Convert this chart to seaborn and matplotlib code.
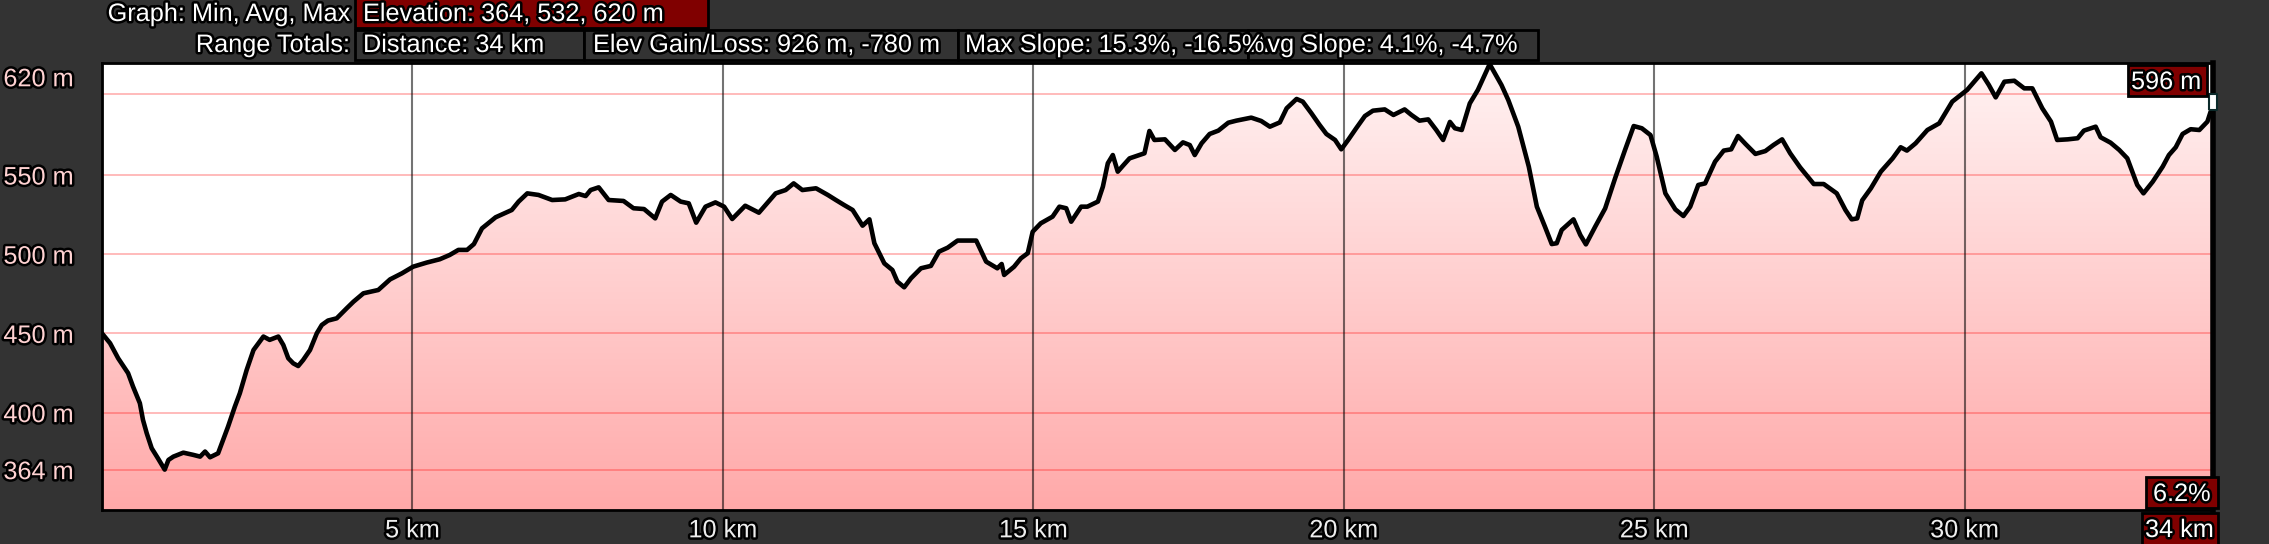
import matplotlib
matplotlib.use("Agg")
import matplotlib.pyplot as plt
import matplotlib.patheffects as pe
from matplotlib.patches import Rectangle
from matplotlib.colors import LinearSegmentedColormap
import numpy as np
import pandas as pd
import seaborn as sns


# ─── Data ─────────────────────────────────────────────────────────────────────
DIST_KM = [
    0.00, 0.13, 0.26, 0.42, 0.50, 0.61, 0.66, 0.72, 0.80, 0.90, 1.01, 1.07, 1.15,
    1.31, 1.47, 1.58, 1.66, 1.74, 1.87, 1.95, 2.03, 2.14, 2.22, 2.33, 2.44, 2.54,
    2.60, 2.70, 2.84, 2.92, 3.00, 3.08, 3.16, 3.24, 3.35, 3.46, 3.54, 3.64, 3.78,
    3.94, 4.05, 4.21, 4.45, 4.64, 4.83, 5.01, 5.23, 5.44, 5.60,
    5.74, 5.88, 5.99, 6.12, 6.34, 6.60, 6.71, 6.85, 7.03, 7.25, 7.46, 7.68, 7.79,
    7.87, 8.00, 8.16, 8.40, 8.56, 8.73, 8.91, 9.02, 9.16, 9.32, 9.45, 9.57, 9.72,
    9.88, 10.02, 10.15, 10.36, 10.58, 10.85, 11.01, 11.14, 11.28,
    11.50, 11.69, 11.82, 11.95, 12.09, 12.25, 12.36, 12.44, 12.60, 12.73, 12.81,
    12.92, 13.03, 13.19, 13.35, 13.48, 13.62, 13.78, 14.08, 14.24, 14.42, 14.49,
    14.53, 14.69, 14.80, 14.91, 14.99, 15.12, 15.31, 15.42, 15.53, 15.61, 15.77,
    15.87, 16.04, 16.12, 16.20, 16.28, 16.36, 16.44, 16.55, 16.79, 16.87, 16.95,
    17.12, 17.28, 17.41, 17.52, 17.60, 17.71, 17.84, 17.98, 18.14, 18.27, 18.51,
    18.67, 18.81, 18.97, 19.08, 19.24, 19.34, 19.48, 19.61, 19.72, 19.86, 19.96,
    20.07, 20.20, 20.34, 20.47, 20.66, 20.80, 20.98, 21.09, 21.22, 21.36, 21.49,
    21.60, 21.71, 21.79, 21.90, 22.03, 22.16, 22.35, 22.54,
    22.65, 22.81, 22.98, 23.11, 23.24, 23.35, 23.43, 23.51, 23.70, 23.81, 23.90,
    24.05, 24.21, 24.37, 24.53, 24.67, 24.80, 24.94, 25.04, 25.18, 25.34, 25.47,
    25.58, 25.71, 25.82, 25.98, 26.12, 26.24, 26.35, 26.47, 26.63, 26.79, 26.92,
    27.06, 27.19, 27.35, 27.57, 27.73, 27.94, 28.08, 28.18, 28.27, 28.35,
    28.49, 28.65, 28.84, 28.97, 29.07, 29.21, 29.40, 29.59, 29.80, 30.04, 30.27,
    30.39, 30.50, 30.64, 30.80, 30.96, 31.09, 31.25, 31.39, 31.49, 31.66, 31.82,
    31.92, 32.11, 32.19, 32.35, 32.49, 32.62, 32.70, 32.78, 32.88, 33.03, 33.19,
    33.29, 33.40, 33.51, 33.64, 33.78, 33.91, 33.97, 34.00,
]
ELEV_M = [
    450.0, 443.8, 434.3, 424.9, 416.4, 405.9, 395.4, 387.0, 377.5, 371.2, 364.0, 370.1, 372.2,
    374.7, 373.3, 372.2, 375.4, 371.8, 374.3, 382.7, 391.1, 403.8, 412.2, 426.9, 439.5, 444.8,
    448.0, 445.9, 448.0, 442.7, 434.3, 431.1, 429.4, 433.2, 439.5, 450.1, 455.3, 458.1, 459.5,
    465.8, 470.0, 475.3, 477.4, 484.1, 487.9, 492.1, 494.7, 496.8, 499.5,
    502.7, 502.7, 506.4, 516.3, 523.3, 527.9, 533.2, 538.4, 537.4, 534.2, 534.6, 538.0, 536.7,
    540.5, 542.2, 534.2, 533.6, 529.0, 528.5, 522.6, 533.2, 537.4, 533.2, 532.1, 519.9, 530.0,
    532.7, 530.0, 522.2, 530.6, 526.2, 538.4, 540.5, 544.7, 540.5,
    541.6, 537.4, 534.2, 531.1, 527.9, 518.0, 522.0, 506.9, 494.2, 490.0, 482.7,
    479.1, 484.8, 491.1, 492.6, 501.6, 504.1, 508.6, 508.6, 495.3, 491.1, 493.8,
    486.9, 492.1, 497.4, 500.6, 514.2, 519.5, 523.7, 530.0, 529.0, 520.5, 530.0,
    530.0, 533.2, 542.6, 557.4, 562.6, 552.1, 555.7, 560.5, 563.7, 577.8, 572.1,
    572.5, 565.8, 570.6, 568.9, 562.6, 570.0, 575.9, 578.0, 583.0, 584.3, 586.2,
    584.1, 580.5, 583.2, 592.1, 598.0, 596.3, 588.9, 581.6, 575.9, 572.1, 566.2,
    572.1, 579.5, 587.2, 590.6, 591.4, 587.9, 591.4, 587.9, 584.3, 585.1, 578.4,
    572.1, 583.5, 579.5, 578.4, 595.2, 603.7, 620.0, 606.8,
    597.3, 580.5, 555.3, 530.0, 517.4, 506.4, 506.9, 515.3, 522.0, 512.1, 506.2,
    517.4, 528.9, 547.9, 565.8, 580.9, 579.5, 575.2, 561.6, 538.4, 528.3, 524.1,
    530.0, 543.7, 544.7, 558.4, 565.4, 566.2, 574.6, 569.6, 563.3, 565.1, 568.9,
    572.5, 563.7, 554.8, 544.3, 544.3, 538.4, 527.9, 522.0, 522.6, 534.0,
    541.6, 552.1, 560.5, 567.5, 565.4, 570.0, 578.4, 582.6, 596.3, 603.7, 614.2,
    606.8, 599.0, 608.9, 609.5, 604.7, 604.7, 592.1, 583.7, 572.1, 572.5, 573.2,
    578.0, 580.5, 573.8, 570.4, 565.8, 560.5, 552.1, 543.7, 538.4, 545.8, 555.3,
    562.6, 567.5, 575.9, 578.9, 578.4, 583.7, 591.0, 596.0,
]

X_TICKS  = [5, 10, 15, 20, 25, 30]
X_LABELS = ["5 km", "10 km", "15 km", "20 km", "25 km", "30 km"]
Y_TICKS  = [364, 400, 450, 500, 550, 612]
Y_LABELS = ["364 m", "400 m", "450 m", "500 m", "550 m", "620 m"]
Y_GRID   = [364, 400, 450, 500, 550, 601]

ELEV_STATS = [364, 532, 620]          # min, avg, max
TOTAL_KM   = 34
GAIN_LOSS  = [926, -780]
MAX_SLOPE  = [15.3, -16.5]
AVG_SLOPE  = [4.1, -4.7]
END_ELEV   = 596
END_SLOPE  = 6.2

# ─── Style ────────────────────────────────────────────────────────────────────
W, H = 2269, 544
BG = "#333333"
DARK_RED = "#800000"
FS = 18.2
OUTLINE = [pe.withStroke(linewidth=3.6, foreground="black")]
Y_LO, Y_HI = 338.5, 620.7

sns.set_style("white")
plt.rcParams["font.family"] = ["Liberation Sans", "DejaVu Sans"]

fig = plt.figure(figsize=(W / 100, H / 100), dpi=100, facecolor=BG)
ax = fig.add_axes([102 / W, 1 - 510 / H, 2111 / W, 447 / H])
ax.set_facecolor("white")

df = pd.DataFrame({"km": DIST_KM, "elev": ELEV_M})

# gradient fill under the profile
cmap = LinearSegmentedColormap.from_list("pinkfade", ["#ffa9a9", "#fff3f3"])
grad = np.linspace(0, 1, 256).reshape(-1, 1)
im = ax.imshow(grad, cmap=cmap, origin="lower", aspect="auto",
               extent=[0, TOTAL_KM, Y_LO, Y_HI], zorder=1)
poly = ax.fill_between(df["km"], df["elev"], Y_LO, facecolor="none", edgecolor="none")
im.set_clip_path(poly.get_paths()[0], transform=ax.transData)

for y in Y_GRID:
    ax.axhline(y, color="#ff0000", alpha=0.27, lw=1.4, zorder=2)
for x in X_TICKS:
    ax.axvline(x, color="black", alpha=0.55, lw=1.5, zorder=2)

sns.lineplot(data=df, x="km", y="elev", ax=ax, color="black", linewidth=3.3,
             sort=False, estimator=None, zorder=3)

rect_marker = [(-1, -2), (1, -2), (1, 2), (-1, 2), (-1, -2)]
ax.plot([DIST_KM[-1]], [END_ELEV], marker=rect_marker, ms=12, mfc="white",
        mec="#0b2a2a", mew=1.5, clip_on=False, zorder=4)

ax.set_xlim(0, TOTAL_KM)
ax.set_ylim(Y_LO, Y_HI)
ax.set_xlabel("")
ax.set_ylabel("")
ax.set_xticks(X_TICKS, X_LABELS)
ax.set_yticks(Y_TICKS, Y_LABELS)
ax.tick_params(axis="both", length=0, labelsize=FS)
ax.tick_params(axis="x", pad=6, labelcolor="#eeeeee")
ax.tick_params(axis="y", pad=71, labelcolor="#ffd2d2")
for lab in ax.get_yticklabels():
    lab.set_ha("left")
    lab.set_path_effects(OUTLINE)
for lab in ax.get_xticklabels():
    lab.set_path_effects(OUTLINE)

for side, sp in ax.spines.items():
    sp.set_visible(True)
    sp.set_color("black")
    sp.set_linewidth(2)
ax.spines["right"].set_linewidth(4)


# ─── Header boxes and value tags (pixel coordinates, y from top) ─────────────
def box(x0, y0, x1, y1, face):
    fig.add_artist(Rectangle((x0 / W, 1 - y1 / H), (x1 - x0) / W, (y1 - y0) / H,
                             transform=fig.transFigure, facecolor=face,
                             edgecolor="black", lw=2, zorder=5))


def label(x, y, s, ha="left", z=6):
    fig.text(x / W, 1 - y / H, s, ha=ha, va="baseline", color="white",
             fontsize=FS, path_effects=OUTLINE, zorder=z)


label(350, 21, "Graph: Min, Avg, Max", ha="right")
box(355, -2, 708, 28, DARK_RED)
label(363, 21, "Elevation: {}, {}, {} m".format(*ELEV_STATS))

label(350, 52, "Range Totals:", ha="right")
box(355, 30, 584, 60, BG)
box(584, 30, 958, 60, BG)
box(958, 30, 1248, 60, BG)
box(1248, 30, 1538, 60, BG)
label(363, 52, f"Distance: {TOTAL_KM} km")
label(593, 52, f"Elev Gain/Loss: {GAIN_LOSS[0]} m, {GAIN_LOSS[1]} m")
label(1251, 52, f"Avg Slope: {AVG_SLOPE[0]}%, {AVG_SLOPE[1]}%", z=6)
label(965, 52, f"Max Slope: {MAX_SLOPE[0]}%, {MAX_SLOPE[1]}%", z=7)

box(2128, 65, 2207, 96, DARK_RED)
label(2131, 89, f"{END_ELEV} m")
box(2146, 477, 2218, 508, DARK_RED)
label(2153, 501, f"{END_SLOPE}%")
box(2142, 513, 2218, 546, DARK_RED)
label(2145, 537, f"{TOTAL_KM} km")

fig.savefig("out.png", dpi=100, facecolor=BG)
